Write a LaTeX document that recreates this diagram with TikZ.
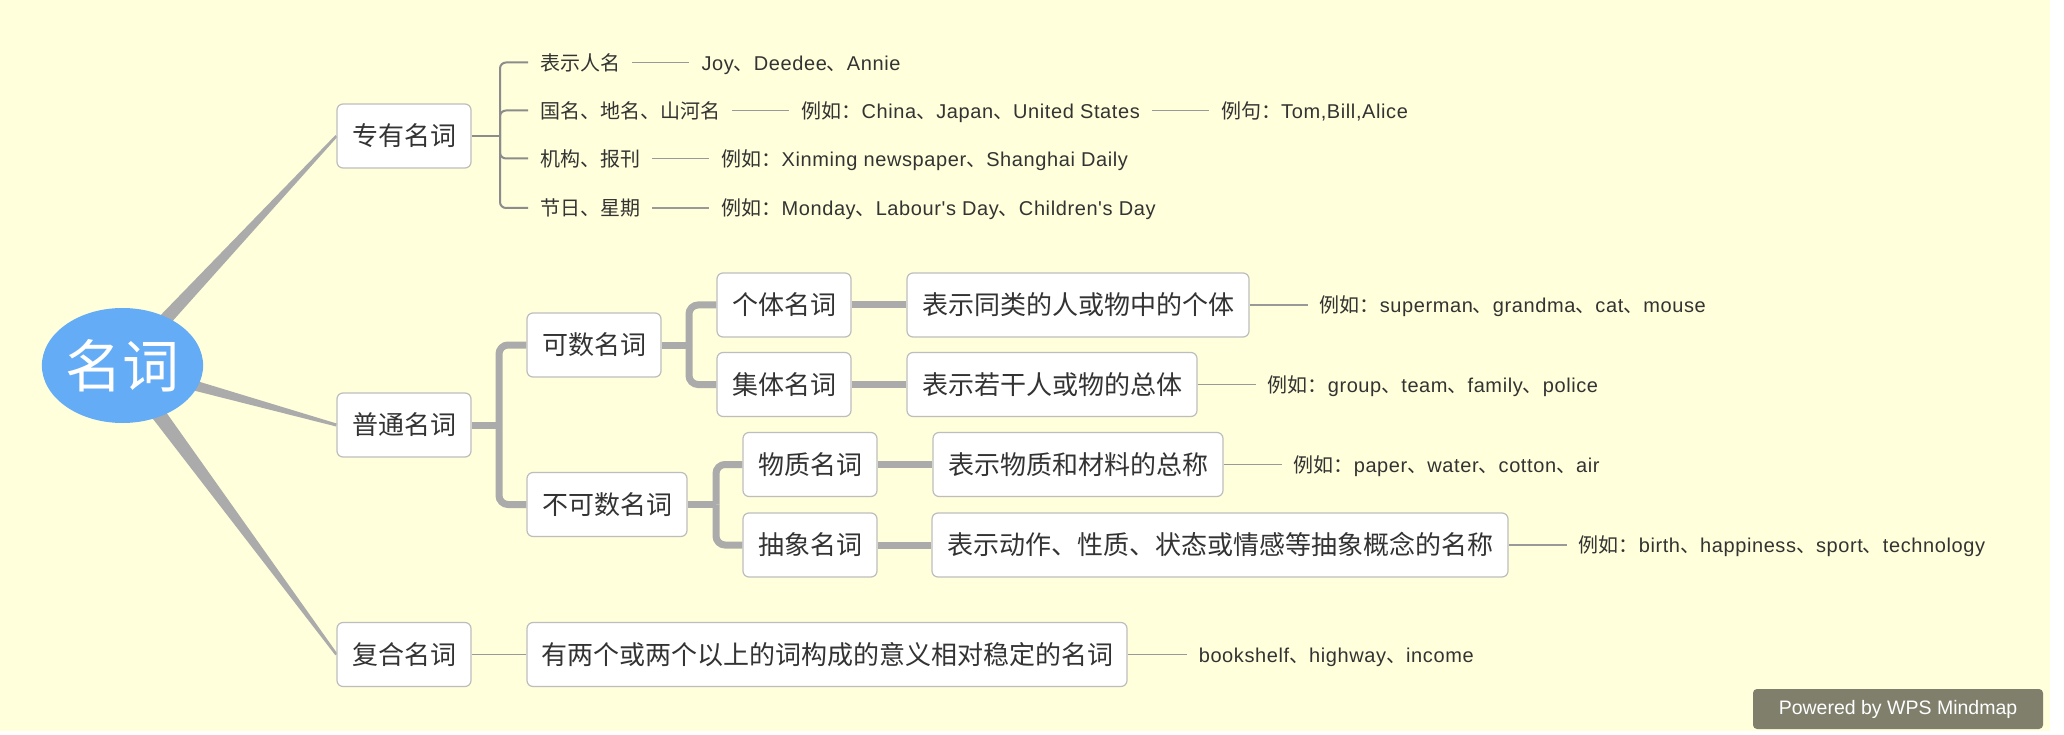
\documentclass[tikz,border=0pt]{standalone}
\usepackage{fontspec}
\setmainfont{Noto Sans CJK SC}
\newfontfamily\latfont[LetterSpace=3.0]{Liberation Sans}
\newfontfamily\latplain{Liberation Sans}
\newcommand\enw[1]{{\latfont #1}}
\usetikzlibrary{shapes.geometric,positioning,calc}
\definecolor{bgyellow}{HTML}{FFFFDB}
\definecolor{rootblue}{HTML}{64ACF6}
\definecolor{conngray}{HTML}{ABABAB}
\definecolor{brgray}{HTML}{8C8C8C}
\definecolor{exgray}{HTML}{999999}
\definecolor{boxline}{HTML}{BDBDBD}
\definecolor{txt}{HTML}{333333}
\definecolor{pwgray}{HTML}{7F7F6C}
\pgfdeclarelayer{back}
\pgfdeclarelayer{links}
\pgfsetlayers{back,links,main}
\tikzset{
  box/.style={draw=boxline, fill=white, rounded corners=6pt, line width=1.2pt,
    minimum height=64pt, inner sep=0pt, text=txt,
    font=\fontsize{26}{31}\selectfont, text height=22.9pt, text depth=3.1pt},
  lbl/.style={anchor=west, inner xsep=12pt, inner ysep=2pt, text=txt,
    font=\fontsize{20}{24}\selectfont, text height=17.6pt, text depth=2.4pt},
  fatline/.style={draw=conngray, line width=7pt, rounded corners=9pt},
  brline/.style={draw=brgray, line width=2pt, rounded corners=6pt},
  exline/.style={draw=exgray, line width=1.8pt},
  taper/.style={fill=conngray},
}
\begin{document}
\begin{tikzpicture}[x=1pt,y=-1pt]
\useasboundingbox (0,0) rectangle (2064,735);
\begin{pgfonlayer}{back}
\fill[white] (0,0) rectangle (2064,735);
\fill[bgyellow] (0,0) rectangle (2050,731);
\end{pgfonlayer}

% root
\node[ellipse, fill=rootblue, minimum width=155pt, minimum height=115pt, inner sep=0pt,
  text=white, font=\fontsize{57}{60}\selectfont, text height=50pt, text depth=7pt] (root) at (122.5,365.5) {名词};

% level 1
\node[box, minimum width=134pt] (zy) at (404,136) {专有名词};
\node[box, minimum width=134pt] (pt) at (404,425) {普通名词};
\node[box, minimum width=134pt] (fh) at (404,654.5) {复合名词};

% proper noun branch
\node[lbl] (n11) at (528,62.5) {表示人名};
\node[lbl, right=57pt of n11] (n12) {\enw{Joy}、\enw{Deedee}、\enw{Annie}};
\node[lbl] (n21) at (528,110.5) {国名、地名、山河名};
\node[lbl, right=57pt of n21] (n22) {例如：\enw{China}、\enw{Japan}、\enw{United States}};
\node[lbl, right=57pt of n22] (n23) {例句：\enw{Tom,Bill,Alice}};
\node[lbl] (n31) at (528,158.5) {机构、报刊};
\node[lbl, right=57pt of n31] (n32) {例如：\enw{Xinming newspaper}、\enw{Shanghai Daily}};
\node[lbl] (n41) at (528,208) {节日、星期};
\node[lbl, right=57pt of n41] (n42) {例如：\enw{Monday}、\enw{Labour\char"27 s Day}、\enw{Children\char"27 s Day}};

% common noun branch
\node[box, minimum width=134pt] (ks) at (594,345) {可数名词};
\node[box, minimum width=160pt] (bks) at (607,504.5) {不可数名词};
\node[box, minimum width=134pt] (gt) at (784,305) {个体名词};
\node[box, minimum width=134pt] (jt) at (784,384.5) {集体名词};
\node[box, minimum width=134pt] (wz) at (810,464.5) {物质名词};
\node[box, minimum width=134pt] (cx) at (810,545) {抽象名词};
\node[box, minimum width=342pt] (d1) at (1078,305) {表示同类的人或物中的个体};
\node[box, minimum width=290pt] (d2) at (1052,384.5) {表示若干人或物的总体};
\node[box, minimum width=290pt] (d3) at (1078,464.5) {表示物质和材料的总称};
\node[box, minimum width=576pt] (d4) at (1220,545) {表示动作、性质、状态或情感等抽象概念的名称};
\node[lbl, right=58pt of d1] (e1) {例如：\enw{superman}、\enw{grandma}、\enw{cat}、\enw{mouse}};
\node[lbl, right=58pt of d2] (e2) {例如：\enw{group}、\enw{team}、\enw{family}、\enw{police}};
\node[lbl, right=58pt of d3] (e3) {例如：\enw{paper}、\enw{water}、\enw{cotton}、\enw{air}};
\node[lbl, right=58pt of d4] (e4) {例如：\enw{birth}、\enw{happiness}、\enw{sport}、\enw{technology}};

% compound noun branch
\node[box, minimum width=600pt] (d5) at (827,654.5) {有两个或两个以上的词构成的意义相对稳定的名词};
\node[lbl, right=59pt of d5] (e5) {\enw{bookshelf}、\enw{highway}、\enw{income}};

% watermark
\node[fill=pwgray, rounded corners=4pt, minimum width=290pt, minimum height=40pt, inner sep=0pt,
  text=white, font=\latplain\fontsize{19.5}{23}\selectfont] (pw) at (1898,709) {Powered by WPS Mindmap};

\begin{pgfonlayer}{links}
% tapered links from root
\fill[taper] ($(root.center)!7.7pt!90:(zy.west)$) -- ($(zy.west)!1.3pt!-90:(root.center)$)
  -- ($(zy.west)!1.3pt!90:(root.center)$) -- ($(root.center)!7.7pt!-90:(zy.west)$) -- cycle;
\fill[taper] ($(root.center)!6.8pt!90:(pt.west)$) -- ($(pt.west)!1.5pt!-90:(root.center)$)
  -- ($(pt.west)!1.5pt!90:(root.center)$) -- ($(root.center)!6.8pt!-90:(pt.west)$) -- cycle;
\fill[taper] ($(root.center)!8.5pt!90:(fh.west)$) -- ($(fh.west)!1.3pt!-90:(root.center)$)
  -- ($(fh.west)!1.3pt!90:(root.center)$) -- ($(root.center)!8.5pt!-90:(fh.west)$) -- cycle;

% proper noun bracket
\coordinate (zyj) at (500,136);
\draw[brline] (zy.east) -- (zyj);
\draw[brline] (zyj) |- (n11.west);
\draw[brline] (zyj) |- (n21.west);
\draw[brline] (zyj) |- (n31.west);
\draw[brline] (zyj) |- (n41.west);
\draw[exline] (n11.east) -- (n12.west);
\draw[exline] (n21.east) -- (n22.west);
\draw[exline] (n22.east) -- (n23.west);
\draw[exline] (n31.east) -- (n32.west);
\draw[exline] (n41.east) -- (n42.west);

% common noun tree
\coordinate (ptj) at (499,425);
\draw[fatline] (pt.east) -- (ptj);
\draw[fatline] (ptj) |- (ks.west);
\draw[fatline] (ptj) |- (bks.west);
\coordinate (ksj) at (689,345);
\draw[fatline] (ks.east) -- (ksj);
\draw[fatline] (ksj) |- (gt.west);
\draw[fatline] (ksj) |- (jt.west);
\coordinate (bksj) at (716,504.5);
\draw[fatline] (bks.east) -- (bksj);
\draw[fatline] (bksj) |- (wz.west);
\draw[fatline] (bksj) |- (cx.west);
\draw[fatline] (gt.east) -- (d1.west);
\draw[fatline] (jt.east) -- (d2.west);
\draw[fatline] (wz.east) -- (d3.west);
\draw[fatline] (cx.east) -- (d4.west);
\draw[exline] (d1.east) -- (e1.west);
\draw[exline] (d2.east) -- (e2.west);
\draw[exline] (d3.east) -- (e3.west);
\draw[exline] (d4.east) -- (e4.west);

% compound noun
\draw[exline] (fh.east) -- (d5.west);
\draw[exline] (d5.east) -- (e5.west);
\end{pgfonlayer}
\end{tikzpicture}
\end{document}
